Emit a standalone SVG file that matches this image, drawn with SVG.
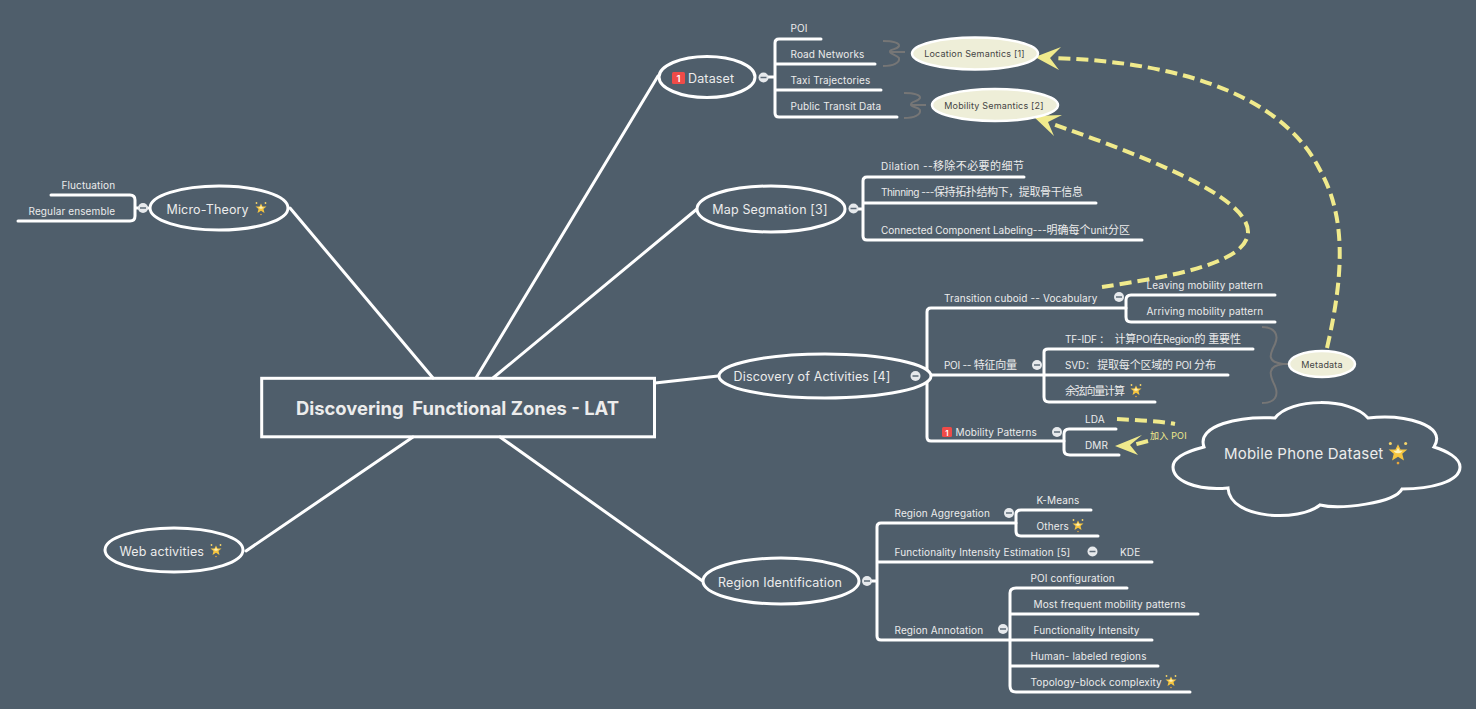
<svg xmlns="http://www.w3.org/2000/svg" width="1476" height="709" viewBox="0 0 1476 709">
<style>
text{font-family:Inter,"Noto Sans CJK SC",sans-serif;fill:#ececec}
.l{font-size:10px;letter-spacing:.12px}
.z{font-size:11px}
.m{font-size:12.500px;letter-spacing:.15px;text-anchor:middle}
.b{fill:none;stroke:#fff;stroke-width:3;stroke-linecap:round;stroke-linejoin:round}
.t{fill:none;stroke:#fff;stroke-width:3}
.e{fill:#4f5e6b;stroke:#fff;stroke-width:3}
.y{fill:none;stroke:#f0ea8c;stroke-width:4;stroke-dasharray:12 6}
.br{fill:none;stroke:#767676;stroke-width:2}
.o{fill:#eeeed8;stroke:#fff;stroke-width:2.500}
.ot{font-size:9px;letter-spacing:.2px;text-anchor:middle;fill:#444}
.c{fill:#e6e9ec}
.cm{stroke:#5d6b78;stroke-width:1.500}
.hd{fill:#f0ea8c}
.bd{fill:#ef4b48}
.bdt{font-weight:600;fill:#fff;text-anchor:middle}
</style>
<defs>
<g id="star"><polygon points="0,-4.500 1.500,-1.500 5.500,-1.500 2.500,1 3.500,5 0,2.800 -3.500,5 -2.500,1 -5.500,-1.500 -1.500,-1.500" fill="#f6c53f"/><polygon points="0,-2.500 1,-.8 2.800,-.8 1.300,.6 0,.8 -1.300,.6 -2.800,-.8 -1,-.8" fill="#fdf1b8"/><circle cx="-4.500" cy="-5" r=".9" fill="#f6d56a"/><circle cx="4.500" cy="-5" r=".9" fill="#f6d56a"/><circle cx="0" cy="6.500" r=".8" fill="#e8a63a"/></g>
<g id="col"><circle r="5" class="c"/><line x1="-3" x2="3" class="cm"/></g>
</defs>
<rect width="1476" height="709" fill="#4f5e6b"/>
<g id="connectors">
<path class="b" d="M433 378 290 208M476 378 658 76M493 378 697 209M655 383 718 376M500 437 704 582M413 437 246 551"/>
<path class="b" d="M775 77H768M775 43Q775 39 779 39H821M775 43V113Q775 117 779 117H897M775 64H875M775 90H881"/>
<path class="b" d="M858 209H863M863 181Q863 177 867 177H1024M863 181V236Q863 240 867 240H1142M863 203H1096"/>
<path class="b" d="M920 376H927M927 312Q927 308 931 308H1126M927 312V437Q927 441 931 441H1064M927 375H1044"/>
<path class="b" d="M1126 308V317Q1126 322 1131 322H1275M1126 308V300Q1126 295 1131 295H1275"/>
<path class="b" d="M1044 352Q1044 349 1048 349H1253M1044 352V397Q1044 402 1049 402H1155M1044 375H1228"/>
<path class="b" d="M1064 441V450Q1064 455 1070 455H1119M1064 441V434Q1064 429 1069 429H1116"/>
<path class="b" d="M870 581H877M877 527Q877 523 881 523H1016M877 527V636Q877 640 881 640H1010M877 562H1152"/>
<path class="b" d="M1016 523V531Q1016 536 1021 536H1098M1016 523V514Q1016 510 1021 510H1091"/>
<path class="b" d="M1010 640V593Q1010 588 1016 588H1127M1010 640V686Q1010 692 1016 692H1190M1010 614H1198M1010 640H1152M1010 666H1158"/>
<path class="b" d="M148 208H135M135 200Q135 195 130 195H51M135 200V216Q135 221 130 221H18"/>
<path class="br" d="M883 41C893 41 900 43 899 46C897 50 889 49 890 52C890 54 897 55 899 58C900 63 893 66 883 66M890 52H905"/>
<path class="br" d="M904 93C914 93 921 95 920 98C918 102 910 101 911 105C911 107 918 107 920 110C921 115 914 118 904 118M911 105H926"/>
<path class="br" d="M1262 327C1275 327 1279 335 1275 344C1270 354 1266 362 1283 364C1266 366 1270 376 1275 386C1279 396 1275 403 1262 403M1283 364H1289" stroke-width="2.500"/>
<path class="y" d="M1327 348C1345 270 1345 215 1320 170C1285 100 1190 62 1053 58"/>
<path class="y" d="M1102 287C1160 278 1248 265 1248 232C1248 195 1140 155 1050 123"/>
<path class="y" d="M1117 419C1135 420 1160 421 1175 424" stroke-dasharray="11 5"/>
<path class="y" d="M1148 441 1133 445" stroke-dasharray="9 4"/>
<polygon class="hd" points="1035,57 1061,47 1050,58 1059,70"/>
<polygon class="hd" points="1033,116 1062,115 1048,122 1054,136"/>
<polygon class="hd" points="1115,446 1142,435 1130,445 1138,455"/>
</g>
<g id="n0"><rect x="261.700" y="378.300" width="392.800" height="58.500" class="t"/><text x="457.500" y="415" font-size="18.400" font-weight="700" text-anchor="middle" style="white-space:pre">Discovering  Functional Zones - LAT</text></g>
<g id="n-dataset"><ellipse cx="707" cy="77" rx="48" ry="20.500" class="e"/><rect x="672" y="72" width="13" height="12" rx="1.500" class="bd"/><text x="678.500" y="81.500" font-size="9.500" class="bdt">1</text><text x="688" y="83" class="m" style="text-anchor:start">Dataset</text><use href="#col" x="763.500" y="77.500"/></g>
<g id="n-poi"><text x="790.500" y="32" class="l">POI</text></g>
<g id="n-road"><text x="790.500" y="58" class="l">Road Networks</text></g>
<g id="n-taxi"><text x="790.500" y="84" class="l">Taxi Trajectories</text></g>
<g id="n-transit"><text x="790.500" y="110" class="l">Public Transit Data</text></g>
<g id="n-loc"><ellipse cx="975" cy="53.500" rx="63" ry="16" class="o"/><text x="974.500" y="57" class="ot">Location Semantics [1]</text></g>
<g id="n-mob"><ellipse cx="995" cy="105" rx="63" ry="16" class="o"/><text x="994" y="109" class="ot">Mobility Semantics [2]</text></g>
<g id="n-map"><ellipse cx="771" cy="209" rx="74" ry="23" class="e"/><text x="770" y="214" class="m">Map Segmation [3]</text><use href="#col" x="853.500" y="208.500"/></g>
<g id="n-dil"><text x="881" y="170" class="l" textLength="143">Dilation --<tspan class="z">移除不必要的细节</tspan></text></g>
<g id="n-thin"><text x="881" y="196" class="l" textLength="202">Thinning ---<tspan class="z">保持拓扑结构下，提取骨干信息</tspan></text></g>
<g id="n-ccl"><text x="881" y="234" class="l" textLength="249">Connected Component Labeling---<tspan class="z">明确每个</tspan>unit<tspan class="z">分区</tspan></text></g>
<g id="n-disc"><ellipse cx="825" cy="376" rx="106" ry="22" class="e"/><text x="812" y="381" class="m">Discovery of Activities [4]</text><use href="#col" x="915.500" y="376"/></g>
<g id="n-tc"><text x="944" y="302" class="l">Transition cuboid -- Vocabulary</text><use href="#col" x="1119" y="297"/></g>
<g id="n-leave"><text x="1146.500" y="289" class="l">Leaving mobility pattern</text></g>
<g id="n-arrive"><text x="1146.500" y="315" class="l">Arriving mobility pattern</text></g>
<g id="n-poifv"><text x="944" y="369" class="l" textLength="73">POI -- <tspan class="z">特征向量</tspan></text><use href="#col" x="1037" y="365"/></g>
<g id="n-tfidf"><text x="1065" y="343" class="l" textLength="176" style="white-space:pre">TF-IDF ：  <tspan class="z">计算</tspan>POI<tspan class="z">在</tspan>Region<tspan class="z">的 重要性</tspan></text></g>
<g id="n-svd"><text x="1065" y="369" class="l" textLength="151">SVD： <tspan class="z">提取每个区域的</tspan> POI <tspan class="z">分布</tspan></text></g>
<g id="n-cos"><text x="1065" y="395" class="l" textLength="60"><tspan class="z">余弦向量计算</tspan></text><use href="#star" x="1136" y="390"/></g>
<g id="n-meta"><ellipse cx="1322" cy="364" rx="33" ry="13" class="o"/><text x="1322" y="368" class="ot">Metadata</text></g>
<g id="n-mp"><rect x="942" y="427" width="10" height="10" rx="1.500" class="bd"/><text x="947" y="435.500" font-size="8" class="bdt">1</text><text x="955.500" y="436" class="l">Mobility Patterns</text><use href="#col" x="1057" y="432"/></g>
<g id="n-lda"><text x="1085" y="423" class="l">LDA</text></g>
<g id="n-dmr"><text x="1085" y="449" class="l">DMR</text></g>
<text x="1150" y="439" font-size="9" letter-spacing=".2" style="fill:#f0ea8c">加入 POI</text>
<g id="n-cloud"><path d="M1204 447C1196 425 1240 416 1275 418C1290 398 1350 397 1368 418C1405 414 1448 425 1434 447C1447 451 1460 458 1460 467C1460 482 1430 489 1402 489C1395 503 1340 510 1320 505C1300 522 1230 520 1228 488C1195 491 1173 480 1173 467C1173 457 1188 451 1204 447Z" class="t"/><text x="1224" y="459" font-size="15" letter-spacing=".2">Mobile Phone Dataset</text><g transform="translate(1398 452) scale(1.700)"><use href="#star"/></g></g>
<g id="n-region"><ellipse cx="781" cy="581" rx="78" ry="23" class="e"/><text x="780" y="587" class="m">Region Identification</text><use href="#col" x="867" y="581"/></g>
<g id="n-ra"><text x="894.500" y="517" class="l">Region Aggregation</text><use href="#col" x="1009" y="513"/></g>
<g id="n-km"><text x="1036.500" y="504" class="l">K-Means</text></g>
<g id="n-oth"><text x="1036.500" y="530" class="l">Others</text><use href="#star" x="1078" y="525"/></g>
<g id="n-fie"><text x="894.500" y="556" class="l">Functionality Intensity Estimation [5]</text><use href="#col" x="1092.500" y="551.500"/></g>
<g id="n-kde"><text x="1120" y="556" class="l">KDE</text></g>
<g id="n-rann"><text x="894.500" y="634" class="l">Region Annotation</text><use href="#col" x="1003" y="629"/></g>
<g id="n-pc"><text x="1030.500" y="582" class="l">POI configuration</text></g>
<g id="n-mf"><text x="1033.500" y="608" class="l">Most frequent mobility patterns</text></g>
<g id="n-fi"><text x="1033.500" y="634" class="l">Functionality Intensity</text></g>
<g id="n-hl"><text x="1030.500" y="660" class="l">Human- labeled regions</text></g>
<g id="n-tb"><text x="1030.500" y="686" class="l">Topology-block complexity</text><use href="#star" x="1171" y="681"/></g>
<g id="n-micro"><ellipse cx="219" cy="208" rx="69" ry="22" class="e"/><text x="166.500" y="214" class="m" style="text-anchor:start">Micro-Theory</text><use href="#star" x="261" y="208"/><use href="#col" x="143" y="208"/></g>
<g id="n-fluc"><text x="61.500" y="189" class="l">Fluctuation</text></g>
<g id="n-reg"><text x="28.500" y="215" class="l">Regular ensemble</text></g>
<g id="n-web"><ellipse cx="174" cy="550" rx="69" ry="22" class="e"/><text x="119.500" y="556" class="m" style="text-anchor:start">Web activities</text><use href="#star" x="216" y="550"/></g>
</svg>
